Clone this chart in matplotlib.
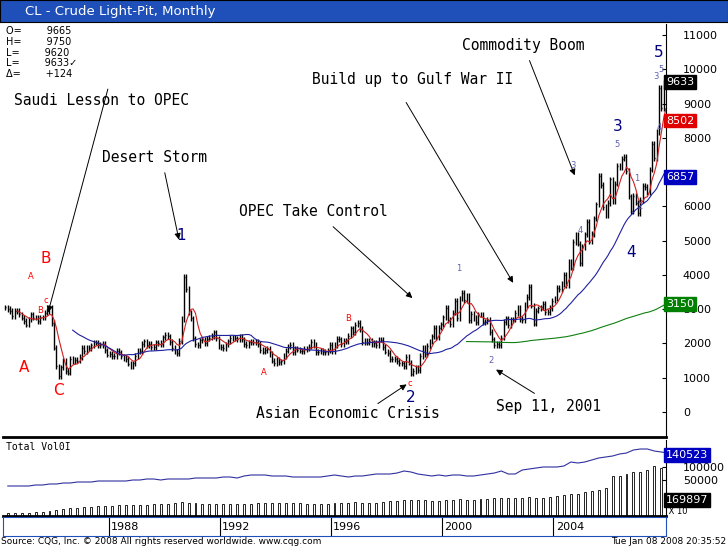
import numpy as np
import pandas as pd
import matplotlib
matplotlib.use('Agg')
import matplotlib.pyplot as plt

# monthly closes ($), Apr 1984 .. Jan 2008
closes = [
    30.5, 30.0, 29.5, 28.0, 29.5, 29.5, 28.5, 27.5, 26.5,
    25.5, 27.0, 28.5, 27.5, 27.5, 26.5, 27.5, 27.5, 29.0, 29.5, 30.5, 26.0,
    18.8, 13.3, 10.5, 13.0, 15.0, 12.0, 11.5, 15.5, 14.8, 15.2, 15.0, 16.1,
    18.7, 17.7, 18.8, 18.7, 19.4, 20.3, 20.2, 19.5, 19.6, 19.9, 18.0, 16.7,
    17.0, 16.3, 16.4, 17.9, 17.4, 16.2, 15.7, 15.5, 14.1, 13.4, 14.2, 16.3,
    17.9, 17.8, 19.9, 20.6, 19.4, 19.9, 18.9, 18.9, 20.3, 20.1, 19.9, 21.8,
    22.6, 22.1, 20.4, 18.6, 17.6, 17.1, 20.7, 27.2, 39.5, 35.9, 29.0, 27.3,
    21.5, 19.7, 19.6, 20.9, 21.2, 20.1, 21.4, 21.7, 22.2, 23.2, 21.5, 19.1,
    18.9, 18.7, 19.7, 20.6, 21.6, 21.8, 21.5, 21.3, 21.9, 21.2, 19.9, 19.5,
    20.3, 20.4, 20.3, 20.4, 19.9, 18.1, 17.6, 18.1, 18.4, 16.9, 15.0, 14.2,
    15.2, 14.5, 14.8, 16.4, 17.9, 19.1, 19.6, 17.5, 18.4, 18.2, 17.9, 17.8,
    18.4, 18.5, 19.1, 20.4, 19.5, 17.4, 17.6, 17.8, 17.5, 17.4, 18.0, 19.5,
    17.7, 19.5, 21.4, 21.2, 19.8, 20.8, 20.6, 22.3, 24.4, 23.4, 25.5, 25.9,
    24.2, 20.3, 20.8, 20.2, 20.8, 19.8, 20.1, 19.6, 21.2, 21.1, 19.0, 17.6,
    17.2, 15.4, 15.6, 15.4, 14.9, 14.2, 14.2, 13.4, 16.1, 14.4, 11.2, 12.0,
    12.8, 12.3, 16.4, 18.7, 16.8, 19.3, 20.5, 22.1, 24.5, 21.8, 24.6, 25.6,
    27.6, 30.4, 26.9, 25.7, 29.0, 32.5, 27.4, 33.1, 34.8, 32.7, 33.8, 26.8,
    28.7, 27.4, 26.3, 28.5, 28.4, 26.3, 26.4, 26.8, 23.4, 21.2, 19.4, 19.8,
    19.5, 21.7, 26.3, 27.3, 25.3, 26.9, 27.0, 28.9, 30.4, 27.2, 26.9, 31.2,
    33.5, 36.6, 31.0, 25.8, 29.6, 30.2, 30.5, 31.6, 29.2, 29.1, 30.4, 32.5,
    33.1, 36.2, 35.8, 37.4, 39.9, 37.0, 43.8, 42.1, 49.6, 51.8, 49.1, 43.5,
    48.2, 51.8, 55.4, 49.7, 51.9, 56.5, 60.6, 68.9, 66.2, 59.8, 57.3, 61.0,
    67.9, 61.4, 66.6, 71.9, 71.3, 73.9, 74.4, 70.3, 62.9, 58.7, 63.1, 61.1,
    58.1, 61.8, 65.9, 65.7, 64.0, 70.7, 78.2, 74.0, 81.7, 94.5, 88.7, 95.98,
    96.33,
]
start_year = 1984.25

# quarterly volume / open interest (panel units), Q2 1984 .. Q1 2008
volume = [3, 3, 3,
          3, 4, 4, 5, 6, 7, 8, 8, 9, 9, 10, 10, 10, 11, 11, 11, 11, 11, 12, 12,
          12, 13, 14, 13, 13, 12, 12, 12, 12, 12, 12, 12, 12, 13, 13, 13, 13, 13, 13, 13,
          12, 12, 12, 12, 13, 13, 13, 14, 13, 13, 13, 14, 15, 15, 16, 16, 16, 16, 15, 15,
          16, 16, 17, 16, 16, 17, 17, 18, 18, 18, 18, 18, 19, 18, 18, 19, 20, 21, 22, 22,
          24, 25, 26, 28, 40, 40, 42, 44, 44, 46, 50, 48, 15]
open_int = [30, 30, 30,
            30, 31, 31, 32, 32, 33, 33, 34, 34, 34, 35, 35, 35, 35, 35, 36, 36, 37, 37, 36,
            37, 37, 37, 37, 38, 38, 38, 38, 39, 39, 38, 40, 41, 41, 41, 40, 40, 40, 39, 39,
            39, 39, 39, 40, 41, 40, 39, 40, 40, 41, 42, 42, 42, 43, 45, 44, 42, 41, 40, 41,
            40, 41, 41, 40, 40, 41, 42, 43, 45, 42, 42, 46, 47, 48, 49, 49, 49, 50, 54, 53,
            54, 56, 58, 59, 60, 62, 63, 66, 67, 67, 65, 64, 63]

right_ticks = [0, 1000, 2000, 3000, 4000, 5000, 6000, 8000, 9000, 10000, 11000]
badges = [(9633, 'black'), (8502, '#e00000'), (6857, '#0000c0'), (3150, '#008000')]
year_ticks = [1988, 1992, 1996, 2000, 2004]

notes = [
    ("Saudi Lesson to OPEC", (1984.6, 9100), (1988.0, 9500), (1985.8, 2830)),
    ("Desert Storm", (1987.75, 7430), (1990.0, 7060), (1990.55, 4950)),
    ("OPEC Take Control", (1992.7, 5860), (1996.0, 5460), (1999.0, 3270)),
    ("Build up to Gulf War II", (1995.3, 9690), (1998.65, 9100), (2002.6, 3700)),
    ("Commodity Boom", (2000.7, 10680), (2003.1, 10330), (2004.8, 6830)),
    ("Asian Economic Crisis", (1993.3, -30), (1997.6, 200), (1998.8, 850)),
    ("Sep 11, 2001", (2001.95, 150), (2003.4, 500), (2001.85, 1280)),
]
waves_big = [("A", 1984.95, 1310, 'red'), ("B", 1985.75, 4490, 'red'), ("C", 1986.2, 640, 'red'),
             ("1", 1990.6, 5160, 'navy'), ("2", 1998.85, 420, 'navy'), ("3", 2006.3, 8340, 'navy'),
             ("4", 2006.8, 4640, 'navy'), ("5", 2007.8, 10500, 'navy')]
waves_small = [("A", 1985.2, 3950, 'red'), ("B", 1985.55, 2960, 'red'), ("C", 1985.75, 3250, 'red'),
               ("A", 1993.6, 1140, 'red'), ("B", 1996.6, 2740, 'red'), ("C", 1998.85, 820, 'red'),
               ("1", 2000.6, 4200, '#6060b0'), ("2", 2001.75, 1500, '#6060b0'),
               ("3", 2004.7, 7200, '#6060b0'), ("4", 2004.95, 5300, '#6060b0'),
               ("5", 2006.3, 7800, '#6060b0'), ("1", 2007.0, 6800, '#6060b0'),
               ("2", 2007.1, 6000, '#6060b0'), ("3", 2007.7, 9800, '#6060b0'),
               ("5", 2007.85, 10000, '#6060b0'), ("4", 2007.8, 8300, '#6060b0')]

px = pd.Series(closes) * 100
t = start_year + (np.arange(len(px)) + 0.5) / 12
opens = px.shift(1).fillna(px.iloc[0])
ma_red = px.rolling(6).mean()
ma_blue = px.rolling(30).mean()
ma_green = px.rolling(200).mean()

fig = plt.figure(figsize=(7.28, 5.46), dpi=100)
fig.patch.set_facecolor('white')

# title bar
tb = fig.add_axes([0, 1 - 22 / 546, 1, 22 / 546])
tb.set_facecolor('#1f4fb8')
tb.set_xticks([]); tb.set_yticks([])
tb.text(0.035, 0.5, "CL - Crude Light-Pit, Monthly", color='white', fontsize=9.5,
        va='center', transform=tb.transAxes)

xmin, xmax = 1984.2, 2008.05
ax = fig.add_axes([0.004, 1 - 437 / 546, 0.911, 413 / 546])
lo, hi = -730, 11321
ax.set_xlim(xmin, xmax); ax.set_ylim(lo, hi)
ax.vlines(t, np.minimum(opens, px) - 80, np.maximum(opens, px) + 80, color='black', lw=1)
ax.hlines(px, t, t + 0.03, color='black', lw=1)
ax.plot(t, ma_red, color='#d02020', lw=0.8)
ax.plot(t, ma_blue, color='#2020a0', lw=0.8)
ax.plot(t, ma_green, color='#108010', lw=0.8)
ax.set_xticks([])
ax.yaxis.tick_right()
ax.set_yticks(right_ticks)
ax.set_yticklabels([str(v) for v in right_ticks], fontsize=8)
ax.tick_params(axis='y', direction='in', length=3, pad=12)
for s in ['top', 'left']:
    ax.spines[s].set_visible(False)
ax.spines['bottom'].set_linewidth(2)
for v, c in badges:
    ax.text(1.0, v, str(v), transform=ax.get_yaxis_transform(), color='white', fontsize=8,
            ha='left', va='center', zorder=5,
            bbox=dict(boxstyle='square,pad=0.15', fc=c, ec=c), clip_on=False)
info = ["O=        9665", "H=        9750", "L=        9620", "L=        9633\u2713", "\u0394=        +124"]
for i, s in enumerate(info):
    ax.text(0.005, 0.995 - i * 0.026, s, transform=ax.transAxes, fontsize=7, va='top')

for txt, tpos, a0, a1 in notes:
    ax.text(tpos[0], tpos[1], txt, family='DejaVu Sans Mono', fontsize=10.5, va='center')
    ax.annotate('', xy=a1, xytext=a0,
                arrowprops=dict(arrowstyle='-|>', color='black', lw=0.7, mutation_scale=9))
for s, x, y, c in waves_big:
    ax.text(x, y, s, color=c, fontsize=11, ha='center', va='center')
for s, x, y, c in waves_small:
    ax.text(x, y, s.lower() if s == 'C' else s, color=c, fontsize=6, ha='center', va='center')

# volume / open interest panel
vq = start_year + (np.arange(len(volume)) * 3 + 1.5) / 12
av = fig.add_axes([0.004, 1 - 516 / 546, 0.911, 76 / 546])
av.set_xlim(xmin, xmax); av.set_ylim(0, 76)
av.bar(vq, volume, width=0.07, color='white', edgecolor='black', lw=0.6)
av.plot(vq, open_int, color='#3030a0', lw=0.8)
av.set_xticks([])
av.yaxis.tick_right()
av.set_yticks([49, 36]); av.set_yticklabels(['100000', '50000'], fontsize=8)
av.tick_params(axis='y', direction='in', length=3, pad=12)
for s in ['top', 'left']:
    av.spines[s].set_visible(False)
av.spines['bottom'].set_linewidth(2)
av.text(0.005, 0.98, "Total Vol0I", transform=av.transAxes, fontsize=7, va='top',
        family='DejaVu Sans Mono')
av.text(1.0, 61, "140523", transform=av.get_yaxis_transform(), color='white', fontsize=8,
        va='center', bbox=dict(boxstyle='square,pad=0.15', fc='#0000c0', ec='#0000c0'), clip_on=False)
av.text(1.0, 16, "169897", transform=av.get_yaxis_transform(), color='white', fontsize=8,
        va='center', bbox=dict(boxstyle='square,pad=0.15', fc='black', ec='black'), clip_on=False)
av.text(1.0, 4, " X 10", transform=av.get_yaxis_transform(), fontsize=6, va='center')

# date strip
ad = fig.add_axes([0.004, 1 - 536 / 546, 0.911, 19 / 546])
ad.set_xlim(xmin, xmax); ad.set_ylim(0, 1)
ad.set_yticks([]); ad.set_xticks([])
for y in year_ticks:
    ad.axvline(y, color='black', lw=0.8)
    ad.text(y + 0.08, 0.45, str(y), fontsize=8, va='center')
for s in ad.spines.values():
    s.set_color('#1f4fb8')

fig.text(0.002, 0.003, "Source: CQG, Inc. \u00a9 2008 All rights reserved worldwide. www.cqg.com",
         fontsize=6.5)
fig.text(0.998, 0.003, "Tue Jan 08 2008 20:35:52", fontsize=6.5, ha='right')

fig.savefig('out.png', dpi=100)
